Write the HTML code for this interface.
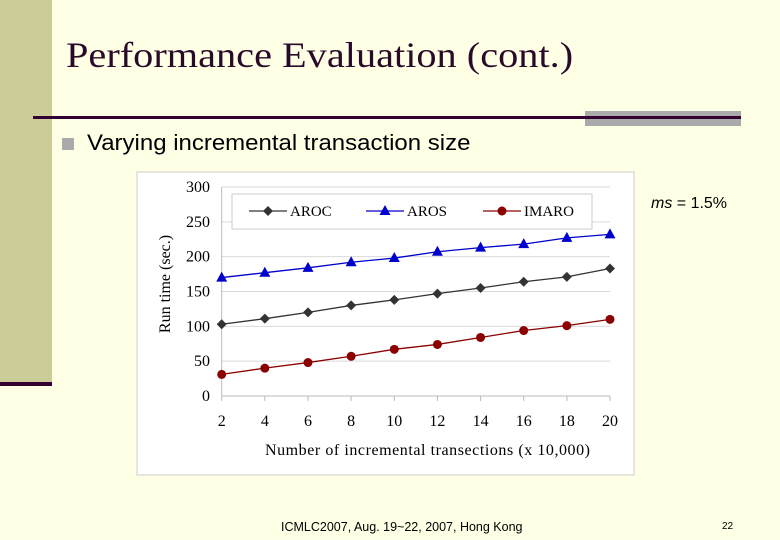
<!DOCTYPE html>
<html><head><meta charset="utf-8"><style>
body{margin:0;width:780px;height:540px;background:#ffffe6;position:relative;overflow:hidden;font-family:"Liberation Sans",sans-serif}
div{position:absolute}
</style></head><body>
<div style="left:0;top:0;width:52px;height:382px;background:#cccc99"></div>
<div style="left:0;top:382px;width:52px;height:4px;background:#330033"></div>
<div style="left:66px;top:34px;font-family:'Liberation Serif',serif;font-size:36px;color:#2a0a2a;white-space:nowrap;transform:scaleX(1.12);transform-origin:0 0">Performance Evaluation (cont.)</div>
<div style="left:585px;top:111px;width:156px;height:15px;background:#aaaaaa"></div>
<div style="left:33px;top:116px;width:708px;height:3px;background:#330033"></div>
<div style="left:62px;top:138px;width:12px;height:12px;background:#aaaaaa"></div>
<div style="left:87px;top:130px;font-size:22px;color:#000;white-space:nowrap;transform:scaleX(1.09);transform-origin:0 0">Varying incremental transaction size</div>
<div style="left:651px;top:195px;font-size:16px;color:#000;white-space:nowrap"><i>ms</i> = 1.5%</div>
<div style="left:281px;top:520px;font-size:12.5px;color:#000;white-space:nowrap">ICMLC2007, Aug. 19~22, 2007, Hong Kong</div>
<div style="left:722px;top:521px;font-size:10px;color:#000">22</div>
<svg width="780" height="540" style="position:absolute;left:0;top:0" id="svg"></svg>
<script>
const categories=[2,4,6,8,10,12,14,16,18,20];
const aroc=[103,111,120,130,138,147,155,164,171,183];
const aros=[170,177,184,192,198,207,213,218,227,232];
const imaro=[31,40,48,57,67,74,84,94,101,110];
const yTicks=[0,50,100,150,200,250,300];
const NS='http://www.w3.org/2000/svg';
const svg=document.getElementById('svg');
function X(v){return 221.7+(v-2)*(610-221.7)/18;}
function Y(v){return 396-v*209/300;}
function mk(t,a,p){const e=document.createElementNS(NS,t);for(const k in a)e.setAttribute(k,a[k]);(p||svg).appendChild(e);return e;}
let bg=mk('rect',{x:137,y:172,width:497,height:303,fill:'#fff',stroke:'#ccc'});


yTicks.forEach(t=>{
 if(t>0){let g=mk('line',{x1:221.7,x2:610,y1:Y(t),y2:Y(t),stroke:'#d9d9d9'});
 
 }
 let l=mk('text',{x:210,y:Y(t)+5,'text-anchor':'end','font-family':'Liberation Serif,serif','font-size':16});
 l.textContent=t;
 
 
});
let ax=mk('line',{x1:221.7,x2:610,y1:Y(0),y2:Y(0),stroke:'#bbb'});


let ay=mk('line',{x1:221.7,x2:221.7,y1:Y(0),y2:Y(300),stroke:'#bbb'});


categories.forEach(c=>{
 let tk=mk('line',{x1:X(c),x2:X(c),y1:Y(0),y2:Y(0)+5,stroke:'#bbb'});
 
 
 let l=mk('text',{x:X(c),y:426,'text-anchor':'middle','font-family':'Liberation Serif,serif','font-size':16});
 l.textContent=c;
 
 
});
let xt=mk('text',{x:265,y:455,textLength:325,'font-family':'Liberation Serif,serif','font-size':16});
xt.textContent='Number of incremental transections (x 10,000)';


let yt=mk('text',{x:0,y:0,transform:'translate(170,284) rotate(-90)','text-anchor':'middle','font-family':'Liberation Serif,serif','font-size':16});
yt.textContent='Run time (sec.)';


function marker(type,x,y,col){
 let m;
 if(type==='d')m=mk('polygon',{points:`${x},${y-5} ${x+5},${y} ${x},${y+5} ${x-5},${y}`,fill:col});
 else if(type==='t')m=mk('polygon',{points:`${x},${y-6} ${x+5.5},${y+4} ${x-5.5},${y+4}`,fill:col});
 else m=mk('circle',{cx:x,cy:y,r:4.5,fill:col});
 return m;
}
const series=[[aroc,'#333','d','AROC','series-aroc'],[aros,'#0000cc','t','AROS','series-aros'],[imaro,'#8b0000','c','IMARO','series-imaro']];
series.forEach(([vals,col,t,name,dn])=>{
 let p=mk('polyline',{points:vals.map((v,i)=>X(categories[i])+','+Y(v)).join(' '),fill:'none',stroke:col,'stroke-width':1.3});
 
 
 vals.forEach((v,i)=>{let m=marker(t,X(categories[i]),Y(v),col);
 
 });
});
let lg=mk('rect',{x:232,y:194,width:360,height:35,fill:'#fff',stroke:'#ccc'});


series.forEach(([vals,col,t,name,dn],i)=>{
 const x0=249+i*117,y0=211;
 let l=mk('line',{x1:x0,x2:x0+38,y1:y0,y2:y0,stroke:col,'stroke-width':1.3});
 
 
 let m=marker(t,x0+19,y0,col);
 
 
 let tx=mk('text',{x:x0+41,y:y0+5,'font-family':'Liberation Serif,serif','font-size':15});
 tx.textContent=name;
 
 
});
</script>
</body></html>
